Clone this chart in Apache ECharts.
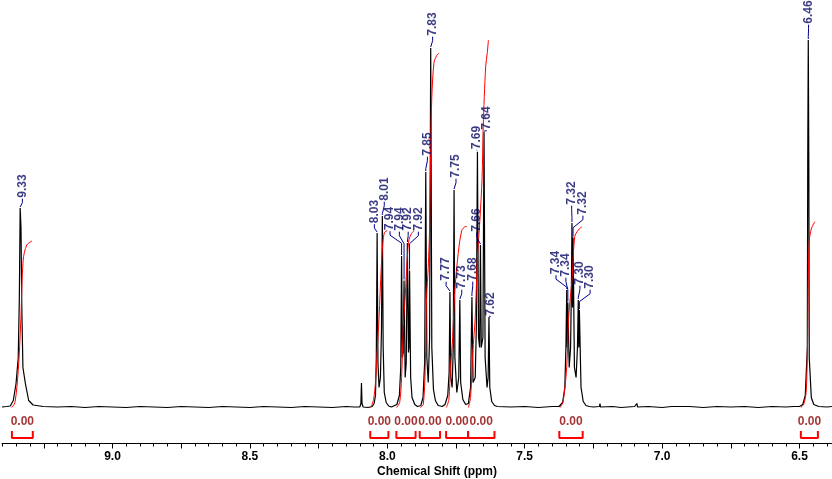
<!DOCTYPE html>
<html>
<head>
<meta charset="utf-8">
<script src="https://cdn.jsdelivr.net/npm/echarts@6/dist/echarts.min.js"></script>
<style>
html,body{margin:0;padding:0;background:#fff;}
#chart{width:832px;height:479px;}
</style>
</head>
<body>
<div id="chart"></div>
<script>
// ---- data (ppm, intensity) ----
const spectrum = [
  [9.402,0.5],[9.385,1],[9.372,1.5],
  [9.367,2],[9.361,7],[9.351,24],[9.343,50],[9.339,110],[9.336,199.5],[9.333,180],[9.330,100],[9.326,40],[9.317,24],[9.305,7],[9.289,2.5],[9.253,1],
  [9.20,0.5],[9.15,1],[9.10,0],[9.05,1],[9.00,0.5],[8.95,0],[8.90,1],[8.85,0.5],[8.80,0],[8.75,1],[8.70,0.5],[8.65,0],[8.60,1],[8.55,0.5],[8.50,0],[8.45,1],[8.40,0.5],[8.35,0],[8.30,1],[8.25,0.5],[8.20,0],[8.15,1],[8.12,0.5],
  [8.100,0.5],[8.096,4],[8.094,24.5],[8.092,4],[8.088,0.5],
  [8.070,0],[8.055,1],[8.048,4],[8.043,12],[8.040,50],[8.037,174.5],[8.034,45],[8.030,20],
  [8.025,30],[8.021,80],[8.018,191.5],[8.015,60],[8.011,15],[8.004,5],[7.995,1.5],[7.985,0.5],
  [7.965,3],[7.956,12],[7.951,40],[7.948,151.5],[7.945,50],[7.942,55],[7.939,127],[7.935,30],[7.931,45],[7.927,164.5],[7.923,55],[7.921,60],[7.919,137],[7.915,30],[7.910,10],[7.900,3],[7.890,1],
  [7.878,2],[7.870,10],[7.864,45],[7.860,235.5],[7.856,50],[7.851,25],[7.846,70],[7.842,359.5],[7.838,60],[7.832,18],[7.825,7],[7.815,2],[7.800,1],
  [7.790,3],[7.780,12],[7.775,35],[7.772,115.5],[7.769,30],[7.764,20],[7.760,60],[7.757,217.5],[7.754,50],[7.747,15],[7.740,30],[7.736,107.5],[7.733,25],[7.725,8],[7.715,3],
  [7.705,4],[7.697,20],[7.692,110.5],[7.688,25],[7.680,30],[7.676,80],[7.672,255.5],[7.668,70],[7.664,60],[7.661,162.5],[7.658,60],[7.652,70],[7.648,275.5],[7.644,50],[7.637,20],[7.633,30],[7.630,90.5],[7.627,20],[7.620,6],[7.610,2],[7.600,1],
  [7.55,0.5],[7.50,1],[7.45,0],[7.40,1],
  [7.375,1],[7.362,5],[7.354,20],[7.350,60],[7.347,117.5],[7.345,60],[7.343,105],[7.338,40],[7.333,60],[7.330,120],[7.328,184.5],[7.326,100],[7.324,170],[7.319,40],[7.313,30],[7.308,60],[7.305,107.5],[7.303,60],[7.301,97.5],[7.295,20],[7.287,6],[7.277,2],[7.265,1],
  [7.25,0.5],[7.228,1],[7.226,4],[7.224,0.5],[7.18,1],[7.15,0],[7.10,1],[7.092,4],[7.089,0.5],[7.05,1],[7.00,0],[6.965,1],[6.962,3],[6.959,0.5],[6.90,1],[6.85,0],[6.80,1],[6.75,0.5],[6.70,1],[6.65,0],[6.60,1],[6.55,0.5],[6.52,1],
  [6.500,1],[6.488,3],[6.479,12],[6.4715,60],[6.470,246],[6.468,367.5],[6.466,240],[6.4645,50],[6.457,10],[6.448,3],[6.430,1],[6.400,0.5],[6.382,1]
];

const integralCurves = [
  [[9.367,0],[9.355,5],[9.343,37],[9.334,84.5],[9.325,147.5],[9.312,162.5],[9.293,166.5]],
  [[8.060,0],[8.050,8],[8.043,25],[8.036,60],[8.030,90],[8.022,140],[8.016,165],[8.010,175],[8.000,177]],
  [[7.966,0],[7.955,5],[7.948,30],[7.942,80],[7.935,110],[7.927,150],[7.921,168],[7.912,174],[7.902,177]],
  [[7.880,0],[7.869,3],[7.862,40],[7.857,110],[7.851,140],[7.846,180],[7.842,260],[7.838,310],[7.830,345],[7.820,352],[7.812,354.5]],
  [[7.785,0],[7.776,8],[7.770,40],[7.762,70],[7.755,114],[7.742,154],[7.729,177],[7.717,180.8],[7.710,181]],
  [[7.705,0],[7.697,10],[7.689,54.5],[7.680,90],[7.672,150],[7.663,187.5],[7.655,230],[7.651,280.8],[7.642,340.8],[7.636,355],[7.632,367.5]],
  [[7.371,0],[7.360,6],[7.347,40.8],[7.340,90],[7.327,130.8],[7.318,170.8],[7.305,177.5],[7.292,180.8]],
  [[6.495,0],[6.485,3],[6.476,15],[6.471,60],[6.468,130],[6.465,165],[6.462,172],[6.456,179.5],[6.444,185.8]]
];

const integralRanges = [[9.366,9.290],[8.062,7.996],[7.967,7.897],[7.882,7.808],[7.786,7.706],[7.706,7.610],[7.374,7.289],[6.495,6.433]];
const integralValues = ['0.00','0.00','0.00','0.00','0.00','0.00','0.00','0.00'];

const peakLabels = ['9.33','8.03','8.01','7.94','7.94','7.92','7.92','7.85','7.83','7.77','7.75','7.73','7.68','7.69','7.66','7.64','7.62','7.34','7.34','7.32','7.32','7.30','7.30','6.46'];
const peakTops = [[9.336,199.5],[8.037,174.5],[8.018,191.5],[7.948,151.5],[7.939,127],[7.927,164.5],[7.919,137],[7.860,235.5],[7.842,359.5],[7.772,115.5],[7.757,217.5],[7.736,107.5],[7.692,110.5],[7.672,255.5],[7.661,162.5],[7.648,275.5],[7.630,90.5],[7.347,117.5],[7.343,105],[7.328,184.5],[7.324,170],[7.305,107.5],[7.301,97.5],[6.468,367.5]];
const labelAnchors = [[9.328,221.5],[8.047,196],[8.011,218.5],[7.990,189],[7.956,188.5],[7.924,188.5],[7.887,188.5],[7.854,263.5],[7.835,383.5],[7.786,138.5],[7.750,241.5],[7.729,130.5],[7.689,138.5],[7.675,270],[7.675,187.5],[7.638,289.5],[7.624,103.5],[7.386,145],[7.350,142.5],[7.329,214.5],[7.288,204.5],[7.299,134.5],[7.262,130.5],[6.467,395.5]];

const tickLabels = [9.0, 8.5, 8.0, 7.5, 7.0, 6.5];
const majorTicks = [9.25, 9.0, 8.75, 8.5, 8.25, 8.0, 7.75, 7.5, 7.25, 7.0, 6.75, 6.5];

// ---- layout ----
const FONT = '"Liberation Sans", Arial, sans-serif';
const X_MIN = 6.3817, X_MAX = 9.4021;
const Y_MIN = -36, Y_MAX = 407.5;
const LABEL_Y = -14.5, BR_TOP = -23.5, BR_BOT = -30.5;
const HALF_TEXT = 11.7;

const minorTicks = [];
for (let k = 128; k <= 188; k++) minorTicks.push(+(k * 0.05).toFixed(2));

const series = [];
series.push({
  type: 'line', data: spectrum, showSymbol: false, symbol: 'none',
  lineStyle: {color: '#000', width: 1.2}, silent: true, z: 2
});
integralCurves.forEach(c => series.push({
  type: 'line', data: c, showSymbol: false, symbol: 'none', smooth: 0.3,
  lineStyle: {color: '#ff0000', width: 1}, silent: true, z: 3
}));
integralRanges.forEach(r => series.push({
  type: 'line', data: [[r[0], BR_TOP], [r[0], BR_BOT], [r[1], BR_BOT], [r[1], BR_TOP]],
  showSymbol: false, symbol: 'none', lineStyle: {color: '#ff0000', width: 2}, silent: true, z: 3
}));
series.push({
  type: 'scatter', symbolSize: 1, itemStyle: {color: 'rgba(0,0,0,0)'}, silent: true, z: 4,
  data: integralRanges.map((r, i) => ({name: integralValues[i], value: [(r[0] + r[1]) / 2, LABEL_Y]})),
  label: {show: true, position: 'inside', formatter: p => p.name, color: '#8b0000',
    fontFamily: FONT, fontWeight: 'bold', fontSize: 12,
    textShadowColor: '#ff0000', textShadowOffsetX: 1, textShadowOffsetY: 0, textShadowBlur: 0}
});
// leader lines
peakLabels.forEach((t, i) => {
  const l = labelAnchors[i], p = peakTops[i];
  const yb = l[1] - HALF_TEXT - 1;
  const y3 = Math.max(yb - 12, p[1] + 1);
  const y2 = Math.max(yb - 4, y3);
  series.push({
    type: 'line', data: [[l[0], yb], [l[0], y2], [p[0], y3], [p[0], p[1] + 1]],
    showSymbol: false, symbol: 'none', lineStyle: {color: '#00008b', width: 1}, silent: true, z: 3
  });
});
series.push({
  type: 'scatter', symbolSize: 1, itemStyle: {color: 'rgba(0,0,0,0)'}, silent: true, z: 5,
  data: peakLabels.map((t, i) => ({name: t, value: labelAnchors[i]})),
  label: {show: true, position: 'inside', rotate: 90, formatter: p => p.name,
    color: '#0a0a66', fontFamily: FONT, fontSize: 12, fontWeight: 'bold', align: 'center', verticalAlign: 'middle'}
});

const chart = echarts.init(document.getElementById('chart'), null, {renderer: 'canvas'});
chart.setOption({
  animation: false,
  backgroundColor: '#fff',
  grid: {left: 2, right: 0, top: 0, bottom: 35.5, containLabel: false},
  xAxis: [{
    type: 'value', min: X_MIN, max: X_MAX, inverse: true, position: 'bottom',
    axisLine: {show: true, onZero: false, lineStyle: {color: '#000', width: 1}},
    axisTick: {show: true, customValues: majorTicks, length: 5, lineStyle: {color: '#000'}},
    axisLabel: {show: true, customValues: tickLabels, formatter: v => v.toFixed(1), margin: 7,
      color: '#000', fontWeight: 'bold', fontSize: 12, fontFamily: FONT},
    splitLine: {show: false}
  }, {
    type: 'value', min: X_MIN, max: X_MAX, inverse: true, position: 'bottom', offset: 0,
    axisLine: {show: false, onZero: false},
    axisTick: {show: true, customValues: minorTicks, length: 3, lineStyle: {color: '#000'}},
    axisLabel: {show: false}, splitLine: {show: false}
  }],
  yAxis: {type: 'value', min: Y_MIN, max: Y_MAX, show: false, splitLine: {show: false}},
  graphic: [{
    type: 'text', x: 437, y: 472,
    style: {text: 'Chemical Shift (ppm)', fill: '#000', font: 'bold 12px ' + FONT,
      textAlign: 'center', textVerticalAlign: 'middle'}
  }],
  series: series
});
</script>
</body>
</html>
